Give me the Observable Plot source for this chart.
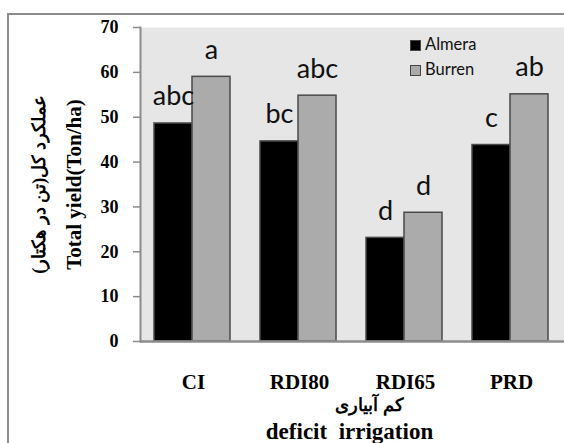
<!DOCTYPE html>
<html>
<head>
<meta charset="utf-8">
<script src="https://cdn.jsdelivr.net/npm/d3@7"></script>
<script src="https://cdn.jsdelivr.net/npm/@observablehq/plot@0.6"></script>
<style>
  html, body { margin: 0; padding: 0; background: #fff; }
  #wrap { position: relative; width: 564px; height: 443px; overflow: hidden; }
  #border { position: absolute; left: 7px; top: 13px; right: -10px; bottom: -10px;
            border-top: 2px solid #8c8c8c; border-left: 2px solid #8c8c8c; }
  #chart { position: absolute; left: 0; top: 0; }
  #legend { position: absolute; left: 410px; top: 32px; font-family: Lato, sans-serif; font-size: 16.5px; color: #111; line-height: 25px; }
  #legend .sw { display: inline-block; width: 9px; height: 9px; border: 1.5px solid #444; margin-right: 4px; vertical-align: -1px; }
</style>
</head>
<body>
<div id="wrap">
  <div id="border"></div>
  <div id="chart"></div>
  <div id="legend"></div>
</div>
<script>
const treatments = ["CI", "RDI80", "RDI65", "PRD"];
const varieties = ["Almera", "Burren"];
const almera = [48.6, 44.6, 23.1, 43.8];
const burren = [59.0, 54.8, 28.7, 55.1];
const almeraLetters = ["abc", "bc", "d", "c"];
const burrenLetters = ["a", "abc", "d", "ab"];
const yTicks = [0, 10, 20, 30, 40, 50, 60, 70];
const colors = {Almera: "#000000", Burren: "#ababab"};
const yLabelEn = "Total yield(Ton/ha)";
const yLabelFa = "عملکرد کل(تن در هکتار)";
const xLabelEn = "deficit  irrigation";
const xLabelFa = "کم آبیاری";

const dataA = treatments.map((t, i) => ({treatment: t, value: almera[i], letter: almeraLetters[i]}));
const dataB = treatments.map((t, i) => ({treatment: t, value: burren[i], letter: burrenLetters[i]}));

const serif = "'Liberation Serif', 'Times New Roman', serif";
const sans = "Lato, sans-serif";

const plot = Plot.plot({
  width: 564,
  height: 443,
  marginLeft: 140,
  marginRight: 0,
  marginTop: 27,
  marginBottom: 102,
  style: {background: "transparent", overflow: "visible"},
  x: {type: "band", domain: treatments, padding: 0, axis: null},
  y: {domain: [0, 70], axis: null},
  marks: [
    Plot.frame({fill: "#e6e6e6", stroke: null}),
    Plot.barY(dataA, {x: "treatment", y: "value", fill: colors.Almera, stroke: "#4a4a4a", strokeWidth: 1.5, insetLeft: 14, insetRight: 54}),
    Plot.barY(dataB, {x: "treatment", y: "value", fill: colors.Burren, stroke: "#4a4a4a", strokeWidth: 1.5, insetLeft: 52, insetRight: 16}),
    Plot.text(dataA, {x: "treatment", y: "value", text: "letter", dx: -20, dy: -18, lineAnchor: "bottom", fontFamily: sans, fontSize: 27, fill: "#111"}),
    Plot.text(dataB, {x: "treatment", y: "value", text: "letter", dx: 18, dy: -18, lineAnchor: "bottom", fontFamily: sans, fontSize: 27, fill: "#111"}),
    Plot.axisY({ticks: yTicks, tickSize: 7, tickPadding: 15, stroke: "#8c8c8c", strokeWidth: 1.5, fontFamily: serif, fontSize: 18, fontWeight: "bold", fill: "#000", label: null}),
    Plot.frame({anchor: "left", stroke: "#8c8c8c", strokeWidth: 2}),
    Plot.ruleY([0], {stroke: "#8c8c8c", strokeWidth: 2.5}),
    Plot.axisX({tickSize: 0, tickPadding: 33, fontFamily: serif, fontSize: 21, fontWeight: "bold", fill: "#000", label: null}),
    Plot.text([yLabelEn], {frameAnchor: "left", rotate: -90, dx: -66, text: d => d, lineAnchor: "middle", textAnchor: "middle", fontFamily: serif, fontSize: 21, fontWeight: "bold", fill: "#000"}),
    Plot.text([yLabelFa], {frameAnchor: "left", rotate: -90, dx: -101, text: d => d, lineAnchor: "middle", textAnchor: "middle", fontFamily: serif, fontSize: 18, fontWeight: "bold", fill: "#000"}),
    Plot.text([xLabelFa], {frameAnchor: "bottom", dx: 17, dy: 64, text: d => d, lineAnchor: "middle", textAnchor: "middle", fontFamily: serif, fontSize: 18, fontWeight: "bold", fill: "#000"}),
    Plot.text([xLabelEn], {frameAnchor: "bottom", dx: -3, dy: 90, text: d => d, lineAnchor: "middle", textAnchor: "middle", fontFamily: serif, fontSize: 23, fontWeight: "bold", fill: "#000"})
  ]
});
document.getElementById("chart").appendChild(plot);

const legend = document.getElementById("legend");
varieties.forEach(v => {
  const row = document.createElement("div");
  const sw = document.createElement("span");
  sw.className = "sw";
  sw.style.background = colors[v];
  row.appendChild(sw);
  row.appendChild(document.createTextNode(v));
  legend.appendChild(row);
});
</script>
</body>
</html>
